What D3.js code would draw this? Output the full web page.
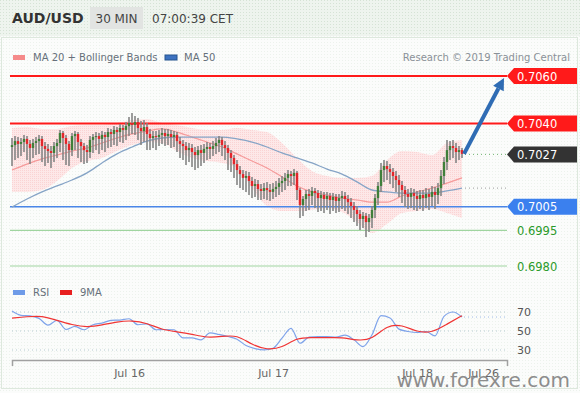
<!DOCTYPE html>
<html>
<head>
<meta charset="utf-8">
<script src="https://cdn.jsdelivr.net/npm/d3@7"></script>
<style>
  body { margin: 0; background: #fff; }
  svg { display: block; font-family: "DejaVu Sans", sans-serif; }
</style>
</head>
<body>
<div id="chart"></div>
<script>
// ---- candles (30 min bars, price) ----
const opens = [0.70301,0.70309,0.70326,0.70314,0.70322,0.70335,0.70314,0.70297,0.70318,0.70326,
0.70335,0.70305,0.70293,0.70284,0.70276,0.70305,0.70318,0.70360,0.70339,0.70314,
0.70288,0.70347,0.70356,0.70322,0.70305,0.70288,0.70280,0.70331,0.70343,0.70347,
0.70335,0.70352,0.70343,0.70364,0.70356,0.70373,0.70364,0.70381,0.70373,0.70389,
0.70402,0.70394,0.70406,0.70381,0.70368,0.70385,0.70356,0.70339,0.70347,0.70343,
0.70352,0.70360,0.70347,0.70356,0.70343,0.70352,0.70326,0.70314,0.70305,0.70288,
0.70297,0.70280,0.70267,0.70288,0.70276,0.70293,0.70301,0.70293,0.70305,0.70318,
0.70331,0.70309,0.70297,0.70276,0.70255,0.70229,0.70204,0.70187,0.70171,0.70179,
0.70158,0.70137,0.70145,0.70124,0.70116,0.70128,0.70120,0.70112,0.70124,0.70133,
0.70149,0.70158,0.70171,0.70187,0.70179,0.70192,0.70120,0.70057,0.70082,0.70103,
0.70095,0.70116,0.70107,0.70086,0.70099,0.70082,0.70095,0.70078,0.70091,0.70074,
0.70086,0.70095,0.70082,0.70069,0.70053,0.70036,0.70019,0.69998,0.70011,0.69985,
0.70002,0.70036,0.70086,0.70137,0.70204,0.70221,0.70208,0.70196,0.70179,0.70162,
0.70141,0.70120,0.70103,0.70091,0.70107,0.70095,0.70082,0.70099,0.70086,0.70103,
0.70091,0.70112,0.70099,0.70128,0.70179,0.70238,0.70288,0.70305,0.70297,0.70280,
0.70288];
const closes = [0.70309,0.70326,0.70314,0.70322,0.70335,0.70314,0.70297,0.70318,0.70326,0.70335,
0.70305,0.70293,0.70284,0.70276,0.70305,0.70318,0.70360,0.70339,0.70314,0.70288,
0.70347,0.70356,0.70322,0.70305,0.70288,0.70280,0.70331,0.70343,0.70347,0.70335,
0.70352,0.70343,0.70364,0.70356,0.70373,0.70364,0.70381,0.70373,0.70389,0.70402,
0.70394,0.70406,0.70381,0.70368,0.70385,0.70356,0.70339,0.70347,0.70343,0.70352,
0.70360,0.70347,0.70356,0.70343,0.70352,0.70326,0.70314,0.70305,0.70288,0.70297,
0.70280,0.70267,0.70288,0.70276,0.70293,0.70301,0.70293,0.70305,0.70318,0.70331,
0.70309,0.70297,0.70276,0.70255,0.70229,0.70204,0.70187,0.70171,0.70179,0.70158,
0.70137,0.70145,0.70124,0.70116,0.70128,0.70120,0.70112,0.70124,0.70133,0.70149,
0.70158,0.70171,0.70187,0.70179,0.70192,0.70120,0.70057,0.70082,0.70103,0.70095,
0.70116,0.70107,0.70086,0.70099,0.70082,0.70095,0.70078,0.70091,0.70074,0.70086,
0.70095,0.70082,0.70069,0.70053,0.70036,0.70019,0.69998,0.70011,0.69985,0.70002,
0.70036,0.70086,0.70137,0.70204,0.70221,0.70208,0.70196,0.70179,0.70162,0.70141,
0.70120,0.70103,0.70091,0.70107,0.70095,0.70082,0.70099,0.70086,0.70103,0.70091,
0.70112,0.70099,0.70128,0.70179,0.70238,0.70288,0.70305,0.70297,0.70280,0.70288,
0.70272];
const highs = [0.70339,0.70347,0.70343,0.70339,0.70352,0.70347,0.70331,0.70335,0.70343,0.70352,
0.70347,0.70322,0.70314,0.70305,0.70322,0.70335,0.70373,0.70368,0.70352,0.70326,
0.70360,0.70368,0.70364,0.70335,0.70318,0.70309,0.70347,0.70356,0.70364,0.70360,
0.70368,0.70364,0.70381,0.70377,0.70389,0.70385,0.70398,0.70394,0.70406,0.70427,
0.70444,0.70432,0.70423,0.70411,0.70415,0.70402,0.70377,0.70368,0.70368,0.70373,
0.70381,0.70377,0.70377,0.70373,0.70368,0.70364,0.70343,0.70331,0.70322,0.70318,
0.70314,0.70301,0.70305,0.70309,0.70314,0.70322,0.70318,0.70326,0.70339,0.70347,
0.70343,0.70326,0.70309,0.70288,0.70267,0.70246,0.70221,0.70204,0.70200,0.70196,
0.70175,0.70166,0.70162,0.70145,0.70149,0.70154,0.70145,0.70149,0.70158,0.70171,
0.70179,0.70192,0.70204,0.70200,0.70208,0.70200,0.70128,0.70095,0.70120,0.70124,
0.70133,0.70128,0.70120,0.70116,0.70112,0.70112,0.70107,0.70107,0.70103,0.70103,
0.70116,0.70112,0.70099,0.70086,0.70069,0.70053,0.70036,0.70027,0.70023,0.70019,
0.70053,0.70103,0.70154,0.70234,0.70246,0.70242,0.70229,0.70213,0.70200,0.70183,
0.70158,0.70137,0.70124,0.70128,0.70124,0.70116,0.70120,0.70120,0.70128,0.70124,
0.70137,0.70133,0.70149,0.70204,0.70259,0.70331,0.70326,0.70331,0.70318,0.70305,
0.70297];
const lows = [0.70221,0.70246,0.70255,0.70263,0.70280,0.70246,0.70229,0.70255,0.70267,0.70272,
0.70238,0.70221,0.70234,0.70213,0.70238,0.70255,0.70280,0.70246,0.70225,0.70221,
0.70263,0.70288,0.70255,0.70238,0.70229,0.70234,0.70255,0.70276,0.70288,0.70272,
0.70288,0.70280,0.70297,0.70301,0.70309,0.70305,0.70322,0.70318,0.70331,0.70347,
0.70356,0.70352,0.70331,0.70309,0.70322,0.70288,0.70288,0.70297,0.70288,0.70305,
0.70314,0.70305,0.70309,0.70297,0.70301,0.70280,0.70255,0.70246,0.70225,0.70238,
0.70217,0.70204,0.70213,0.70221,0.70234,0.70246,0.70251,0.70263,0.70272,0.70280,
0.70263,0.70246,0.70204,0.70196,0.70171,0.70141,0.70128,0.70120,0.70112,0.70099,
0.70086,0.70091,0.70078,0.70078,0.70082,0.70078,0.70074,0.70082,0.70091,0.70099,
0.70112,0.70120,0.70137,0.70137,0.70141,0.70078,0.70002,0.70011,0.70032,0.70036,
0.70057,0.70044,0.70027,0.70032,0.70023,0.70036,0.70019,0.70032,0.70023,0.70027,
0.70040,0.70032,0.70019,0.70002,0.69985,0.69968,0.69952,0.69960,0.69922,0.69943,
0.69960,0.70002,0.70057,0.70112,0.70154,0.70162,0.70145,0.70128,0.70112,0.70091,
0.70065,0.70048,0.70040,0.70044,0.70036,0.70032,0.70040,0.70032,0.70044,0.70036,
0.70053,0.70040,0.70061,0.70095,0.70145,0.70204,0.70246,0.70255,0.70234,0.70246,
0.70255];

// ---- indicators, read every 5 bars ----
const indIdx = [0,5,10,15,20,25,30,35,40,45,50,55,60,65,70,75,80,85,90,95,100,105,110,115,120,125,130,135,140,145,150];
const ma20 = [0.70204,0.70229,0.70251,0.70267,0.70284,0.70297,0.70318,0.70339,0.70356,0.70368,0.70377,0.70364,0.70343,0.70322,0.70301,0.70272,
0.70242,0.70213,0.70175,0.70137,0.70112,0.70099,0.70086,0.70078,0.70069,0.70069,0.70095,0.70112,0.70128,0.70149,0.70171];
const ma50 = [0.70048,0.70082,0.70112,0.70137,0.70162,0.70192,0.70234,0.70272,0.70301,0.70326,0.70339,0.70343,0.70343,0.70343,0.70343,0.70335,
0.70322,0.70301,0.70276,0.70255,0.70234,0.70208,0.70187,0.70154,0.70120,0.70112,0.70107,0.70107,0.70107,0.70116,0.70128];
const bbUpper = [0.70381,0.70385,0.70377,0.70377,0.70389,0.70394,0.70394,0.70402,0.70415,0.70419,0.70402,0.70394,0.70381,0.70373,0.70373,0.70381,
0.70373,0.70364,0.70318,0.70255,0.70200,0.70179,0.70171,0.70171,0.70179,0.70246,0.70284,0.70280,0.70267,0.70318,0.70331];
const bbLower = [0.70112,0.70112,0.70120,0.70158,0.70213,0.70242,0.70255,0.70284,0.70309,0.70322,0.70318,0.70284,0.70255,0.70242,0.70234,0.70213,
0.70128,0.70053,0.70032,0.70032,0.70036,0.70044,0.70027,0.69985,0.69939,0.69977,0.70023,0.70032,0.70040,0.70023,0.70002];

// ---- RSI every 3 bars, 9MA every 5 bars ----
const rsiIdx = [0,3,6,9,12,15,18,21,24,27,30,33,36,39,42,45,48,51,54,57,60,63,66,69,72,75,78,81,84,87,90,93,96,99,102,105,108,111,114,117,120,123,126,129,132,135,138,141,144,147,150];
const rsi = [71.0,66.5,66.0,63.3,56.2,61.2,51.6,54.8,51.3,56.6,
58.3,61.2,61.5,62.9,56.6,57.6,51.3,51.6,51.3,42.8,
42.8,40.7,48.1,46.3,44.2,41.4,34.7,31.5,30.1,31.8,
42.4,52.7,37.1,43.5,44.2,44.2,43.5,45.6,40.7,33.6,
46.0,66.1,63.6,52.0,49.5,48.4,49.5,44.9,65.4,70.0,64.7];
const rsiMa = [63.6,65.1,66.1,61.2,56.6,53.7,56.2,59.8,61.2,58.3,
51.3,49.2,46.7,42.8,44.2,46.0,35.4,30.1,32.2,43.1,
43.1,42.8,43.5,40.0,40.7,56.2,56.6,48.8,48.1,57.3,66.1];
const rsiTicks = [70, 50, 30];

// ---- key levels and labels ----
const levels = [0.7060, 0.7040, 0.7027, 0.7005, 0.6995, 0.6980];
const levelKinds = ["res", "res", "last", "sup", "tgt", "tgt"];
const levelText = ["0.7060", "0.7040", "0.7027", "0.7005", "0.6995", "0.6980"];
const arrowTarget = {i: 164, p: 0.70592};

const dayLabels = ["Jul 16", "Jul 17", "Jul 18", "Jul 26"];
const dayIdx = [39, 87, 135, 157];

const W = 580, H = 393;
const svg = d3.select("#chart").append("svg")
  .attr("width", W).attr("height", H);

// background + dotted texture
const defs = svg.append("defs");
defs.append("pattern").attr("id", "dots")
  .attr("width", 3).attr("height", 3).attr("patternUnits", "userSpaceOnUse")
  .append("rect").attr("width", 1).attr("height", 1).attr("fill", "#cfdfcf");
defs.append("pattern").attr("id", "pinkdots")
  .attr("width", 2).attr("height", 2).attr("patternUnits", "userSpaceOnUse")
  .append("rect").attr("width", 1).attr("height", 1).attr("fill", "#f7b9b9");

svg.append("rect").attr("width", W).attr("height", H).attr("fill", "#fbfcfb");
svg.append("rect").attr("width", W).attr("height", H).attr("fill", "url(#dots)").attr("opacity", 0.35);
svg.append("rect").attr("width", W).attr("height", 36).attr("fill", "#eef4ee");
svg.append("rect").attr("width", W).attr("height", 36).attr("fill", "url(#dots)").attr("opacity", 0.8);
svg.append("rect").attr("x", 1.5).attr("y", 37.5).attr("width", 576).attr("height", 351)
  .attr("fill", "none").attr("stroke", "#dde8dd");

// header
svg.append("text").attr("x", 12).attr("y", 23).attr("font-size", 14).attr("font-weight", "bold")
  .attr("fill", "#333").text("AUD/USD");
svg.append("rect").attr("x", 90).attr("y", 7).attr("width", 53).attr("height", 22).attr("fill", "#e2e4e2");
svg.append("text").attr("x", 116.5).attr("y", 22.5).attr("font-size", 12).attr("text-anchor", "middle")
  .attr("fill", "#444").text("30 MIN");
svg.append("text").attr("x", 152).attr("y", 22.5).attr("font-size", 12).attr("fill", "#444").text("07:00:39 CET");

// legend
const leg = svg.append("g").attr("font-size", 10).attr("fill", "#66707a");
leg.append("rect").attr("x", 13).attr("y", 55).attr("width", 12).attr("height", 5).attr("fill", "#f58a8a");
leg.append("text").attr("x", 33).attr("y", 60.5).text("MA 20 + Bollinger Bands");
leg.append("rect").attr("x", 165).attr("y", 55).attr("width", 12).attr("height", 5).attr("fill", "#3d72c0").attr("stroke", "#27558f");
leg.append("text").attr("x", 184).attr("y", 60.5).text("MA 50");
leg.append("text").attr("x", 570).attr("y", 60.5).attr("text-anchor", "end").attr("fill", "#8a9198")
  .text("Research \u00a9 2019 Trading Central");

// scales
const x = d3.scaleLinear().domain([0, 165]).range([12, 507]);
const y = d3.scaleLinear().domain([0.6980, 0.7060]).range([266, 76]);
const yR = d3.scaleLinear().domain([30, 70]).range([350, 312]);

const ind = indIdx.map((d, k) => ({i: d, ma20: ma20[k], ma50: ma50[k], up: bbUpper[k], lo: bbLower[k]}));

// bollinger band (light, dotted pink like the reference)
const bandArea = d3.area().x(d => x(d.i)).y0(d => y(d.lo)).y1(d => y(d.up)).curve(d3.curveMonotoneX);
svg.append("path").datum(ind).attr("d", bandArea).attr("fill", "#fde8e8");
svg.append("path").datum(ind).attr("d", bandArea).attr("fill", "url(#pinkdots)").attr("opacity", 0.45);

// level lines
const lineX0 = x.range()[0] - 2, lineX1 = x.range()[1];
levels.forEach((p, k) => {
  const kind = levelKinds[k];
  if (kind === "last") {
    svg.append("line").attr("x1", x(150) + 3).attr("x2", lineX1)
      .attr("y1", y(p)).attr("y2", y(p))
      .attr("stroke", "#6fb36f").attr("stroke-dasharray", "1,3");
    return;
  }
  const col = kind === "res" ? "#ff1a1a" : kind === "sup" ? "#4a86e8" : "#9fd49f";
  const sw = kind === "res" ? 2 : kind === "sup" ? 1.5 : 1.2;
  svg.append("line").attr("x1", lineX0).attr("x2", lineX1)
    .attr("y1", y(p)).attr("y2", y(p)).attr("stroke", col).attr("stroke-width", sw);
});

// MA50 current value dotted line
svg.append("line").attr("x1", x(150) + 3).attr("x2", lineX1)
  .attr("y1", y(ma50[ma50.length - 1])).attr("y2", y(ma50[ma50.length - 1]))
  .attr("stroke", "#9a9a9a").attr("stroke-dasharray", "1,3");

// moving averages
svg.append("path").datum(ind)
  .attr("d", d3.line().x(d => x(d.i)).y(d => y(d.ma20)).curve(d3.curveMonotoneX))
  .attr("fill", "none").attr("stroke", "#f59a9a").attr("stroke-width", 1.2);
svg.append("path").datum(ind)
  .attr("d", d3.line().x(d => x(d.i)).y(d => y(d.ma50)).curve(d3.curveMonotoneX))
  .attr("fill", "none").attr("stroke", "#86a4c6").attr("stroke-width", 1.3);

// candles
const bars = closes.map((c, i) => ({i, o: opens[i], h: highs[i], l: lows[i], c}));
const cg = svg.append("g");
cg.selectAll("line").data(bars).join("line")
  .attr("x1", d => x(d.i)).attr("x2", d => x(d.i))
  .attr("y1", d => y(Math.max(d.h, d.o, d.c))).attr("y2", d => y(Math.min(d.l, d.o, d.c)))
  .attr("stroke", "#858585").attr("stroke-width", 1.6);
cg.selectAll("rect").data(bars).join("rect")
  .attr("x", d => x(d.i) - 1.2).attr("width", 2.4)
  .attr("y", d => y(Math.max(d.o, d.c)))
  .attr("height", d => Math.max(1, Math.abs(y(d.o) - y(d.c))))
  .attr("fill", d => d.c > d.o ? "#3f7f3a" : d.c < d.o ? "#e3262b" : "#777");

// forecast arrow
const ax0 = x(150) + 2, ay0 = y(closes[150]);
const ax1 = x(arrowTarget.i), ay1 = y(arrowTarget.p);
const ang = Math.atan2(ay1 - ay0, ax1 - ax0);
const headL = 12, headW = 6;
const bx = ax1 - headL * Math.cos(ang), by = ay1 - headL * Math.sin(ang);
svg.append("line").attr("x1", ax0).attr("y1", ay0).attr("x2", bx).attr("y2", by)
  .attr("stroke", "#2f6cb4").attr("stroke-width", 4);
svg.append("path")
  .attr("d", `M${ax1},${ay1}L${bx + headW * Math.sin(ang)},${by - headW * Math.cos(ang)}L${bx - headW * Math.sin(ang)},${by + headW * Math.cos(ang)}Z`)
  .attr("fill", "#2f6cb4");

// price labels
levels.forEach((p, k) => {
  const kind = levelKinds[k];
  const cy = y(p);
  if (kind === "tgt") {
    svg.append("text").attr("x", 517).attr("y", cy + 4.5).attr("font-size", 11.5)
      .attr("fill", "#2a9a2a").text(levelText[k]);
    return;
  }
  const col = kind === "res" ? "#ff1a1a" : kind === "sup" ? "#3b80ee" : "#333333";
  svg.append("path")
    .attr("d", `M507,${cy}L514,${cy - 8}L577,${cy - 8}L577,${cy + 8}L514,${cy + 8}Z`)
    .attr("fill", col);
  svg.append("text").attr("x", 517).attr("y", cy + 4.5).attr("font-size", 11.5)
    .attr("fill", "#fff").text(levelText[k]);
});

// ---- RSI panel ----
const rl = svg.append("g").attr("font-size", 10).attr("fill", "#66707a");
rl.append("rect").attr("x", 13).attr("y", 290).attr("width", 12).attr("height", 5).attr("fill", "#6f9be8");
rl.append("text").attr("x", 33).attr("y", 295.5).text("RSI");
rl.append("rect").attr("x", 60).attr("y", 290).attr("width", 12).attr("height", 5).attr("fill", "#e82020");
rl.append("text").attr("x", 80).attr("y", 295.5).text("9MA");

rsiTicks.forEach(t => {
  svg.append("line").attr("x1", x(0)).attr("x2", lineX1).attr("y1", yR(t)).attr("y2", yR(t))
    .attr("stroke", "#b5cad0").attr("stroke-dasharray", "1,3");
  svg.append("text").attr("x", 517).attr("y", yR(t) + 4).attr("font-size", 11)
    .attr("fill", "#555").text(t);
});
svg.append("line").attr("x1", x(150) + 2).attr("x2", lineX1)
  .attr("y1", yR(rsi[rsi.length - 1])).attr("y2", yR(rsi[rsi.length - 1]))
  .attr("stroke", "#9fbbe8").attr("stroke-dasharray", "1,3");

svg.append("path").datum(rsiIdx.map((d, k) => [d, rsi[k]]))
  .attr("d", d3.line().x(d => x(d[0])).y(d => yR(d[1])).curve(d3.curveMonotoneX))
  .attr("fill", "none").attr("stroke", "#7ea3ea").attr("stroke-width", 1.2);
svg.append("path").datum(indIdx.map((d, k) => [d, rsiMa[k]]))
  .attr("d", d3.line().x(d => x(d[0])).y(d => yR(d[1])).curve(d3.curveBasis))
  .attr("fill", "none").attr("stroke", "#f03434").attr("stroke-width", 1.2);

// time axis
const axis = svg.append("g").attr("transform", "translate(0,360)")
  .call(d3.axisBottom(x).tickValues(dayIdx).tickFormat((d, k) => dayLabels[k])
    .tickSizeInner(0).tickSizeOuter(6).tickPadding(9));
axis.select(".domain").attr("stroke", "#a0a0a0").attr("stroke-width", 1.5);
axis.selectAll("text").attr("font-size", 11).attr("fill", "#666").attr("font-family", "DejaVu Sans, sans-serif");

// watermark (sits over the last axis labels, as in the reference)
svg.append("text").attr("x", 570).attr("y", 387).attr("text-anchor", "end")
  .attr("font-size", 20).attr("fill", "#7a7a7a").attr("opacity", 0.85).text("www.forexre.com");
</script>
</body>
</html>
